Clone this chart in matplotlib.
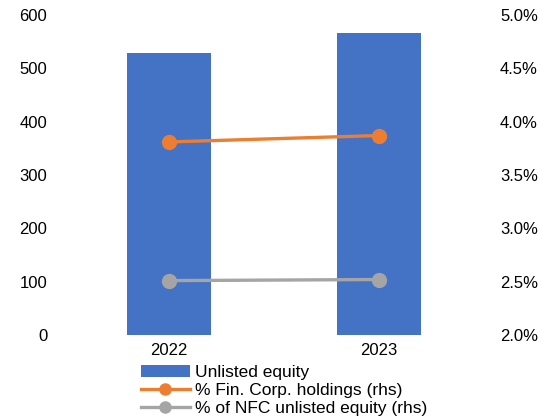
import matplotlib
matplotlib.use("Agg")
import matplotlib.pyplot as plt
from matplotlib.ticker import FuncFormatter

plt.rcParams['font.family'] = ['Liberation Sans', 'DejaVu Sans']

years = ["2022", "2023"]
unlisted_equity = [529, 566]
fin_corp_pct = [3.81, 3.87]
nfc_unlisted_pct = [2.51, 2.52]

W, H = 542, 420
fig = plt.figure(figsize=(W / 100, H / 100), dpi=100)
ax = fig.add_axes([64 / W, 1 - 335 / H, (484 - 64) / W, (335 - 15) / H])
ax2 = ax.twinx()

x = [0.5, 1.5]
bars = ax.bar(x, unlisted_equity, width=0.4, color="#4472C4", label="Unlisted equity", zorder=1)
ax.set_xlim(0, 2)
ax.set_ylim(0, 600)
ax.set_yticks(range(0, 601, 100))
ax.set_xticks(x)
ax.set_xticklabels(years)

l1, = ax2.plot(x, fin_corp_pct, color="#ED7D31", lw=2.4, marker="o", ms=10,
               label="% Fin. Corp. holdings (rhs)")
l2, = ax2.plot(x, nfc_unlisted_pct, color="#A5A5A5", lw=2.4, marker="o", ms=10,
               label="% of NFC unlisted equity (rhs)")
ax2.set_ylim(2.0, 5.0)
ax2.set_yticks([2.0, 2.5, 3.0, 3.5, 4.0, 4.5, 5.0])
ax2.yaxis.set_major_formatter(FuncFormatter(lambda v, p: f"{v:.1f}%"))

for a in (ax, ax2):
    for s in a.spines.values():
        s.set_visible(False)
    a.tick_params(length=0, labelsize=12, colors="black")
ax.tick_params(axis="y", pad=12)
ax.tick_params(axis="x", pad=6)
ax2.tick_params(axis="y", pad=11.5)

fig.legend([bars, l1, l2], [bars.get_label(), l1.get_label(), l2.get_label()],
           loc="upper left", bbox_to_anchor=(141 / W, 1 - 365 / H),
           frameon=False, fontsize=12.5, borderpad=0, borderaxespad=0,
           handlelength=2.8, handletextpad=0.3, labelspacing=0.16,
           markerscale=0.8)

fig.savefig("out.png", dpi=100)
